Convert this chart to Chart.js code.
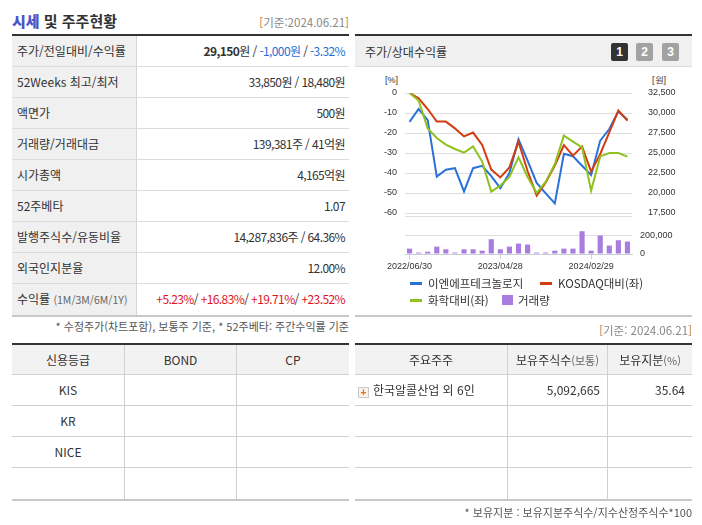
<!DOCTYPE html>
<html lang="ko">
<head>
<meta charset="utf-8">
<script src="https://cdn.jsdelivr.net/npm/chart.js@4.4.1/dist/chart.umd.min.js"></script>
<style>
  body { margin: 0; width: 702px; height: 525px; background: #fff; position: relative; overflow: hidden;
         font-family: "Noto Sans CJK KR", "Noto Sans", sans-serif; color: #333; }
  .abs { position: absolute; }
  .title { left: 12px; top: 10px; font-size: 15px; font-weight: 700; line-height: 22px; color: #333; }
  .title b { color: #4b55c6; }
  .date { font-size: 11.5px; line-height: 16px; color: #888; }
  .date i { font-style: normal; color: #b8763a; }
  .tbl { border-top: 2px solid #333; border-bottom: 2px solid #c8c8c8; box-sizing: border-box; }
  .row { display: flex; height: 31px; box-sizing: border-box; border-bottom: 1px solid #dcdcdc; font-size: 12px; }
  .row:last-child { border-bottom: none; }
  .lab { width: 125px; background: #f0f0f0; border-right: 1px solid #d6d6d6; padding-left: 5px; line-height: 30px; box-sizing: border-box; white-space: nowrap; }
  .lab small { font-size: 10.5px; color: #666; }
  .val { flex: 1; text-align: right; padding-right: 4px; line-height: 30px; white-space: nowrap; letter-spacing: -0.6px; }
  .blue { color: #1f6fd6; } .red { color: #e0141e; }
  .note { font-size: 11px; color: #555; line-height: 14px; white-space: nowrap; }
  .panel { left: 355px; top: 34px; width: 337px; border-top: 2px solid #333; }
  .phead { height: 31px; background: #f0f0f0; border-bottom: 1px solid #dcdcdc; box-sizing: border-box; position: relative; }
  .phead span { position: absolute; left: 10px; top: 0; line-height: 31px; font-size: 12px; }
  .btn { position: absolute; top: 7px; width: 17px; height: 18px; border-radius: 2px; color: #fff; font: bold 12px/18px "Liberation Sans", sans-serif; text-align: center; }
  .unit { font: 9px/12px "Liberation Sans", sans-serif; color: #333; }
  .leg { font-size: 11.5px; line-height: 16px; white-space: nowrap; }
  .dash { position: absolute; width: 12px; height: 3px; }
  .grid { border-top: 2px solid #333; border-bottom: 2px solid #c8c8c8; }
  .grow { display: flex; height: 31px; box-sizing: border-box; border-bottom: 1px solid #d0d0d0; font-size: 12px; line-height: 30px; }
  .grow:last-child { border-bottom: none; }
  .grow.head { height: 30px; line-height: 29px; background: #f2f2f2; }
  .grow > div { box-sizing: border-box; border-left: 1px solid #d0d0d0; white-space: nowrap; }
  .grow > div:first-child { border-left: none; }
  .c { text-align: center; }
  .r { text-align: right; padding-right: 7px; }
  .grow small { font-size: 11px; color: #666; }
  .plus { display: inline-block; width: 9px; height: 9px; border: 1px solid #c9c9c9; background: #fbf3ea; color: #f07010;
          font: bold 10px/9px "Liberation Sans", sans-serif; text-align: center; vertical-align: -1px; margin: 0 4px 0 3px; }
</style>
</head>
<body>
<div class="abs title"><b>시세</b> 및 주주현황</div>
<div class="abs date" style="right:353px; top:14px;"><i>[</i>기준:2024.06.21<i>]</i></div>

<div class="abs tbl" style="left:12px; top:34px; width:337px;">
  <div class="row"><div class="lab">주가/전일대비/수익률</div><div class="val"><b>29,150</b>원 / <span class="blue">-1,000원</span> / <span class="blue">-3.32%</span></div></div>
  <div class="row"><div class="lab">52Weeks 최고/최저</div><div class="val">33,850원 / 18,480원</div></div>
  <div class="row"><div class="lab">액면가</div><div class="val">500원</div></div>
  <div class="row"><div class="lab">거래량/거래대금</div><div class="val">139,381주 / 41억원</div></div>
  <div class="row"><div class="lab">시가총액</div><div class="val">4,165억원</div></div>
  <div class="row"><div class="lab">52주베타</div><div class="val">1.07</div></div>
  <div class="row"><div class="lab">발행주식수/유동비율</div><div class="val">14,287,836주 / 64.36%</div></div>
  <div class="row"><div class="lab">외국인지분율</div><div class="val">12.00%</div></div>
  <div class="row"><div class="lab">수익률 <small>(1M/3M/6M/1Y)</small></div><div class="val"><span class="red">+5.23%</span>/ <span class="red">+16.83%</span>/ <span class="red">+19.71%</span>/ <span class="red">+23.52%</span></div></div>
</div>
<div class="abs note" style="right:353px; top:319px;">* 수정주가(차트포함), 보통주 기준, * 52주베타: 주간수익률 기준</div>

<div class="abs panel">
  <div class="phead"><span>주가/상대수익률</span>
    <div class="btn" style="left:256px; background:#333;">1</div>
    <div class="btn" style="left:281px; background:#a2a2a2;">2</div>
    <div class="btn" style="left:307px; background:#a2a2a2;">3</div>
  </div>
</div>
<div class="abs unit" style="left:385px; top:74px;">[%]</div>
<div class="abs unit" style="left:652px; top:74px;">[원]</div>
<div class="abs" style="left:355px; top:83px; width:337px; height:140px;"><canvas id="lineChart"></canvas></div>
<div class="abs" style="left:355px; top:220px; width:337px; height:56px;"><canvas id="volChart"></canvas></div>
<div id="legend"></div>
<div class="abs" style="left:355px; top:315px; width:337px; height:2px; background:#c8c8c8;"></div>

<div class="abs grid" style="left:12px; top:343px; width:337px;">
  <div class="grow head"><div class="c" style="width:112px;">신용등급</div><div class="c" style="width:112px;">BOND</div><div class="c" style="flex:1;">CP</div></div>
  <div class="grow"><div class="c" style="width:112px;">KIS</div><div style="width:112px;"></div><div style="flex:1;"></div></div>
  <div class="grow"><div class="c" style="width:112px;">KR</div><div style="width:112px;"></div><div style="flex:1;"></div></div>
  <div class="grow"><div class="c" style="width:112px;">NICE</div><div style="width:112px;"></div><div style="flex:1;"></div></div>
  <div class="grow"><div style="width:112px;"></div><div style="width:112px;"></div><div style="flex:1;"></div></div>
</div>

<div class="abs date" style="right:10px; top:322px;"><i>[</i>기준: 2024.06.21<i>]</i></div>
<div class="abs grid" style="left:355px; top:343px; width:337px;">
  <div class="grow head"><div class="c" style="width:152px;">주요주주</div><div class="c" style="width:100px;">보유주식수<small>(보통)</small></div><div class="c" style="flex:1;">보유지분<small>(%)</small></div></div>
  <div class="grow"><div style="width:152px;"><span class="plus">+</span>한국알콜산업 외 6인</div><div class="r" style="width:100px;">5,092,665</div><div class="r" style="flex:1;">35.64</div></div>
  <div class="grow"><div style="width:152px;"></div><div style="width:100px;"></div><div style="flex:1;"></div></div>
  <div class="grow"><div style="width:152px;"></div><div style="width:100px;"></div><div style="flex:1;"></div></div>
  <div class="grow"><div style="width:152px;"></div><div style="width:100px;"></div><div style="flex:1;"></div></div>
</div>
<div class="abs note" style="right:10px; top:505px;">* 보유지분 : 보유지분주식수/지수산정주식수*100</div>

<script>
// month-end points, 2022/06 .. 2024/06
const months = [
  '2022/06/30', '2022/07/29', '2022/08/31', '2022/09/30', '2022/10/31', '2022/11/30', '2022/12/29',
  '2023/01/31', '2023/02/28', '2023/03/31', '2023/04/28', '2023/05/31', '2023/06/30', '2023/07/31',
  '2023/08/31', '2023/09/27', '2023/10/31', '2023/11/30', '2023/12/28', '2024/01/31', '2024/02/29',
  '2024/03/29', '2024/04/30', '2024/05/31', '2024/06/21'
];
const tickEvery = 10;

const stockName = '이엔에프테크놀로지';
const priceWon = [28900, 30500, 29100, 22050, 22900, 23100, 20200, 23100, 23400, 22100, 20600, 22500, 26700,
                  24050, 21250, 19950, 18700, 24900, 24600, 23400, 22250, 26550, 28000, 30200, 29150];
const kosdaqPct = [0, -2.7, -8, -14.3, -14.3, -17.7, -21.7, -19.8, -26, -38.3, -42.2, -37.2, -24.3,
                   -39, -51.3, -44.7, -36.3, -26, -31.3, -26.8, -39.3, -30.5, -19.7, -8.8, -13.8];
const chemPct = [0, -3.8, -17.7, -22.5, -25.8, -28, -29.8, -26.7, -34.3, -49.3, -46.3, -42, -32.2,
                 -42, -50, -44.3, -35.5, -21.3, -24.3, -27.2, -48.8, -31.7, -30, -30, -31.8];
const volume = [58000, 15000, 25000, 80000, 51000, 15000, 51000, 51000, 36000, 160000, 51000, 80000, 113000,
                102000, 15000, 15000, 36000, 58000, 58000, 247000, 36000, 200000, 91000, 149000, 135000];

const pctTicks = [0, -10, -20, -30, -40, -50, -60];
const priceTicks = [32500, 30000, 27500, 25000, 22500, 20000, 17500];
const volTicks = [0, 200000];

const tickFont = { family: '"Liberation Sans", sans-serif', size: 9 };
const fmt = v => Number(v).toLocaleString('en-US');
// fixed axis width, and no extra label room above/below so layout.padding decides the plot box
const fixAxis = width => s => { s.width = width; s.paddingTop = 0; s.paddingBottom = 0; };

const lineChart = new Chart(document.getElementById('lineChart'), {
    type: 'line',
    data: {
        labels: months,
        datasets: [
            { label: stockName, data: priceWon, yAxisID: 'yPrice', borderColor: '#2a72d9', order: 3 },
            { label: 'KOSDAQ대비(좌)', data: kosdaqPct, yAxisID: 'yPct', borderColor: '#d23c10', order: 2 },
            { label: '화학대비(좌)', data: chemPct, yAxisID: 'yPct', borderColor: '#8dc21f', order: 1 }
        ]
    },
    options: {
        responsive: true,
        maintainAspectRatio: false,
        animation: false,
        layout: { padding: { top: 10, bottom: 7, left: 0, right: 0 } },
        plugins: { legend: { display: false }, tooltip: { enabled: false } },
        elements: { point: { radius: 0 }, line: { borderWidth: 2, tension: 0 } },
        scales: {
            x: { type: 'category', offset: true, display: false },
            yPct: {
                position: 'left', min: -61.5, max: 0,
                afterBuildTicks: s => { s.ticks = [-61.5, ...pctTicks].map(v => ({ value: v })); },
                afterFit: fixAxis(50),
                grid: { color: '#dedede', drawTicks: false },
                border: { display: false },
                ticks: { padding: 8, color: '#333', font: tickFont,
                         callback: v => pctTicks.includes(v) ? String(v) : '' }
            },
            yPrice: {
                position: 'right', min: 17125, max: 32500,
                afterBuildTicks: s => { s.ticks = priceTicks.map(v => ({ value: v })); },
                afterFit: fixAxis(60),
                grid: { display: false },
                border: { display: false },
                ticks: { padding: 8, color: '#333', font: tickFont, callback: fmt }
            }
        }
    }
});

const volChart = new Chart(document.getElementById('volChart'), {
    type: 'bar',
    data: {
        labels: months,
        datasets: [{ label: '거래량', data: volume, yAxisID: 'yVol', backgroundColor: '#a97de0',
                     barPercentage: 0.6, categoryPercentage: 0.95 }]
    },
    options: {
        responsive: true,
        maintainAspectRatio: false,
        animation: false,
        layout: { padding: { top: 10, bottom: 2, left: 50, right: 0 } },
        plugins: { legend: { display: false }, tooltip: { enabled: false } },
        scales: {
            x: {
                offset: true,
                afterBuildTicks: s => { s.ticks = s.ticks.filter(t => t.value % tickEvery === 0); },
                afterFit: s => { s.height = 20; },
                grid: { offset: false, drawOnChartArea: false, drawTicks: true, tickLength: 5, color: '#c9ced9' },
                border: { color: '#c9ced9' },
                ticks: { autoSkip: false, maxRotation: 0, padding: 2, color: '#333', font: tickFont }
            },
            yVol: {
                position: 'right', min: 0, max: 260000,
                afterBuildTicks: s => { s.ticks = volTicks.map(v => ({ value: v })); },
                afterFit: fixAxis(60),
                grid: { color: '#dedede', drawTicks: false },
                border: { display: false },
                ticks: { padding: 8, color: '#333', font: tickFont, callback: fmt }
            }
        }
    }
});

// legend in two rows, taken from the chart datasets
const legend = document.getElementById('legend');
const items = [
    ...lineChart.data.datasets.map(d => ({ text: d.label, color: d.borderColor, box: false })),
    ...volChart.data.datasets.map(d => ({ text: d.label, color: d.backgroundColor, box: true }))
];
const spots = [[410, 283], [540, 283], [410, 300], [502, 300]];
items.forEach((it, i) => {
    const [x, y] = spots[i];
    const mark = document.createElement('div');
    mark.className = 'abs';
    if (it.box) {
        Object.assign(mark.style, { left: x + 'px', top: (y - 5) + 'px', width: '11px', height: '10px', background: it.color });
    } else {
        mark.className = 'dash';
        Object.assign(mark.style, { left: x + 'px', top: (y - 1) + 'px', background: it.color });
    }
    legend.appendChild(mark);
    const t = document.createElement('div');
    t.className = 'abs leg';
    t.textContent = it.text;
    Object.assign(t.style, { left: (x + (it.box ? 16 : 18)) + 'px', top: (y - 8) + 'px' });
    legend.appendChild(t);
});
</script>
</body>
</html>
